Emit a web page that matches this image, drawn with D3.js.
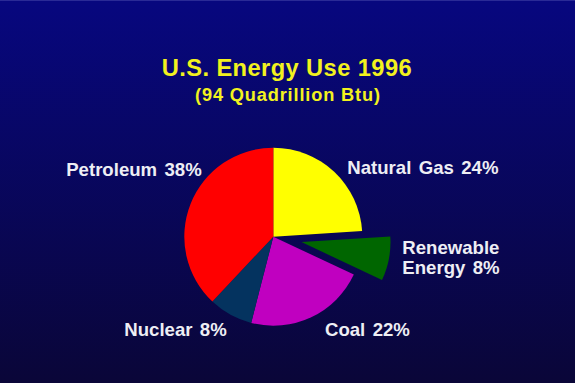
<!DOCTYPE html>
<html><head><meta charset="utf-8">
<script src="https://cdn.jsdelivr.net/npm/d3@7"></script>
<style>html,body{margin:0;padding:0;background:#000;overflow:hidden} svg{display:block}</style>
</head><body>
<script>
// ---- data ----
const categories = ["Natural Gas", "Renewable Energy", "Coal", "Nuclear", "Petroleum"];
const shares = [24, 8, 22, 8, 38];
const labelLines = [["Natural Gas 24%"], ["Renewable", "Energy 8%"], ["Coal 22%"], ["Nuclear 8%"], ["Petroleum 38%"]];
const explodedFlags = [false, true, false, false, false];
const titleText = "U.S. Energy Use 1996";
const subtitleText = "(94 Quadrillion Btu)";

// ---- styles / layout ----
const colors = ["#ffff00", "#006600", "#c000c0", "#04335f", "#ff0000"];
const W = 575, H = 383;
const cx = 273.3, cy = 236.7, R = 89;
const explodeDist = 28.7;
const labelLayout = [
  {anchor: "start", dx: 74, dy: -63},
  {anchor: "start", dx: 129, dy: 17.3},
  {anchor: "start", dx: 51.7, dy: 99.3},
  {anchor: "end", dx: -46.6, dy: 99.3},
  {anchor: "end", dx: -71.6, dy: -61.2}
];
const fontFam = "'Liberation Sans', Arial, Helvetica, sans-serif";

const svg = d3.select("body").append("svg").attr("width", W).attr("height", H);
const defs = svg.append("defs");
const grad = defs.append("linearGradient").attr("id", "bg").attr("x1", 0).attr("y1", 0).attr("x2", 0).attr("y2", 1);
grad.append("stop").attr("offset", "0%").attr("stop-color", "#07077f");
grad.append("stop").attr("offset", "100%").attr("stop-color", "#0a0638");
svg.append("rect").attr("width", W).attr("height", H).attr("fill", "url(#bg)");
svg.append("rect").attr("width", W).attr("height", 1).attr("fill", "#2a2a96");

// title
svg.append("text").attr("x", 286.7).attr("y", 76).attr("text-anchor", "middle")
  .attr("font-family", fontFam).attr("font-weight", "bold").attr("font-size", 23.7)
  .attr("textLength", 250).attr("lengthAdjust", "spacing")
  .attr("fill", "#f2f21e").text(titleText);
svg.append("text").attr("x", 287.5).attr("y", 101).attr("text-anchor", "middle")
  .attr("font-family", fontFam).attr("font-weight", "bold").attr("font-size", 18.2)
  .attr("textLength", 185).attr("lengthAdjust", "spacing")
  .attr("fill", "#f2f21e").text(subtitleText);

// pie
const pie = d3.pie().sort(null).value(d => d).startAngle(0).endAngle(2 * Math.PI);
const arcs = pie(shares);
const arc = d3.arc().innerRadius(0).outerRadius(R);

const g = svg.append("g").attr("transform", `translate(${cx},${cy})`);
g.selectAll("path").data(arcs).join("path")
  .attr("d", arc)
  .attr("fill", (d, i) => colors[i])
  .attr("transform", (d, i) => {
    if (!explodedFlags[i]) return null;
    const a = (d.startAngle + d.endAngle) / 2;
    return `translate(${Math.sin(a) * explodeDist},${-Math.cos(a) * explodeDist})`;
  });

// labels
const lg = svg.append("g").attr("transform", `translate(${cx},${cy})`);
labelLines.forEach((lines, i) => {
  const L = labelLayout[i];
  const t = lg.append("text").attr("x", L.dx).attr("y", L.dy)
    .attr("text-anchor", L.anchor).attr("font-family", fontFam)
    .attr("font-weight", "bold").attr("font-size", 18.6).attr("word-spacing", 2.2)
    .attr("fill", "#eeeef4");
  lines.forEach((ln, j) => {
    t.append("tspan").attr("x", L.dx).attr("dy", j === 0 ? 0 : 20.5).text(ln);
  });
});
</script>
</body></html>
